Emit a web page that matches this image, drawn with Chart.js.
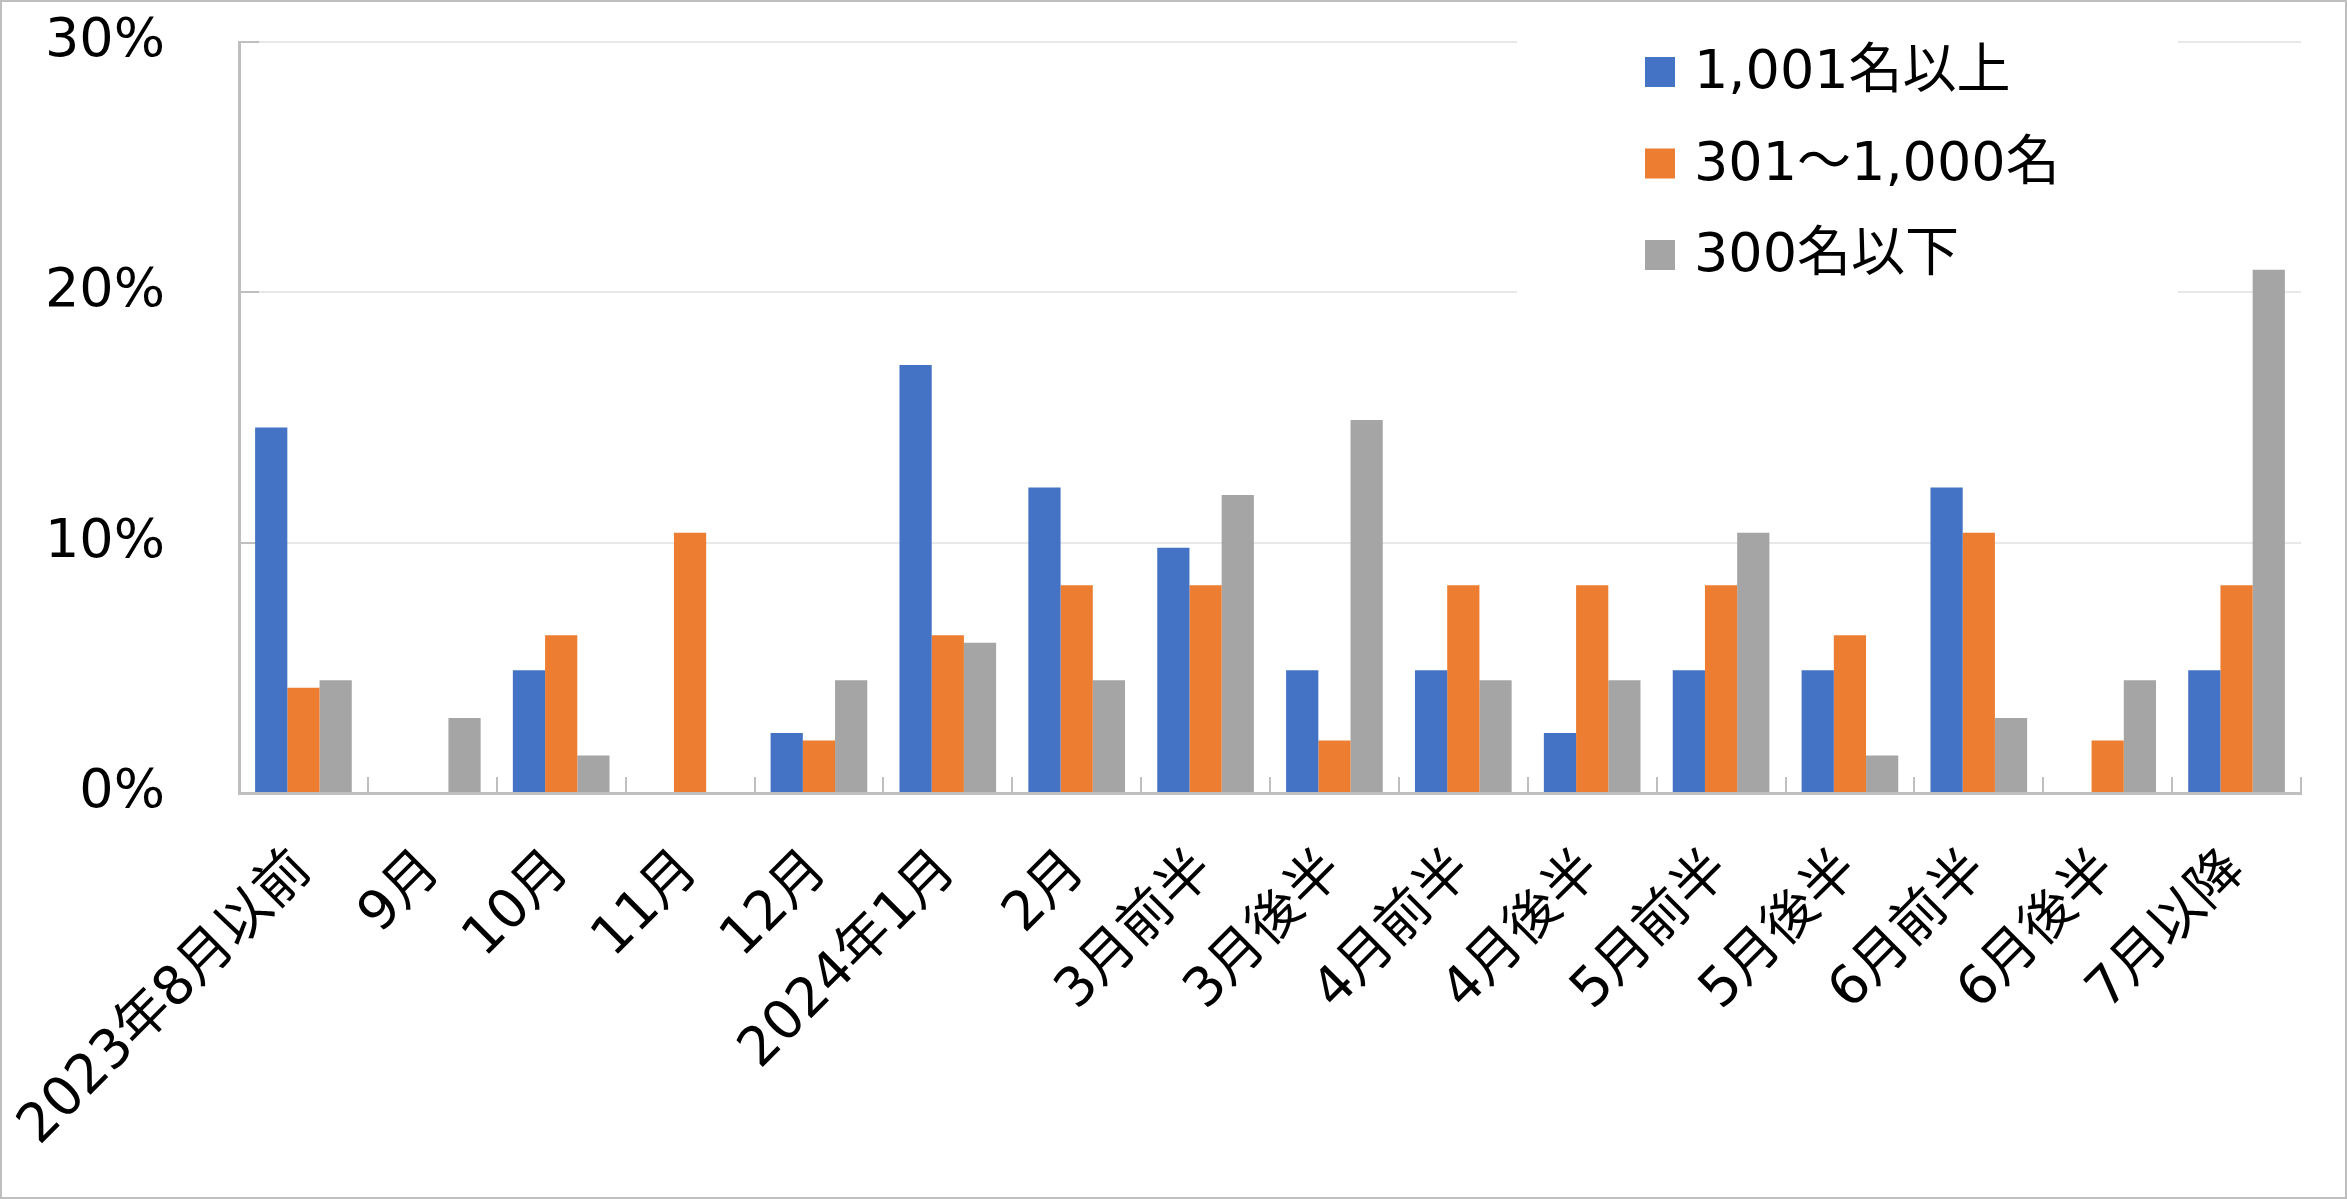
<!DOCTYPE html>
<html lang="ja">
<head>
<meta charset="utf-8">
<title>入社時期</title>
<script src="https://cdn.jsdelivr.net/npm/chart.js@4.4.1/dist/chart.umd.min.js"></script>
<style>
  html, body { margin: 0; padding: 0; background: #fff; }
  #frame { width: 2347px; height: 1199px; box-sizing: border-box; border: 2px solid #bfbfbf; position: relative; }
  #chart { display: block; }
</style>
</head>
<body>
<div id="frame"><canvas id="chart"></canvas></div>
<script>
// categories and values (%)
const categories = ['2023年8月以前', '9月', '10月', '11月', '12月', '2024年1月', '2月', '3月前半', '3月後半',
    '4月前半', '4月後半', '5月前半', '5月後半', '6月前半', '6月後半', '7月以降'];
const seriesNames = ['1,001名以上', '301～1,000名', '300名以下'];
const over1000 = [14.6, 0, 4.9, 0, 2.4, 17.1, 12.2, 9.8, 4.9, 4.9, 2.4, 4.9, 4.9, 12.2, 0, 4.9];
const from301 = [4.2, 0, 6.3, 10.4, 2.1, 6.3, 8.3, 8.3, 2.1, 8.3, 8.3, 8.3, 6.3, 10.4, 2.1, 8.3];
const under300 = [4.5, 3.0, 1.5, 0, 4.5, 6.0, 4.5, 11.9, 14.9, 4.5, 4.5, 10.4, 1.5, 3.0, 4.5, 20.9];
const yTicks = [0, 10, 20, 30];

const colors = ['#4472C4', '#ED7D31', '#A5A5A5'];
const fontFamily = '"DejaVu Sans", "Noto Sans CJK JP", sans-serif';
const fontSize = 54;

// legend drawn inside the plot, on a white box like Excel does
const insideLegend = {
    id: 'insideLegend',
    afterDraw(chart) {
        const ctx = chart.ctx;
        ctx.save();
        ctx.fillStyle = '#fff';
        ctx.fillRect(1515, 30, 661, 270);
        ctx.font = fontSize + 'px ' + fontFamily;
        ctx.textBaseline = 'middle';
        ctx.textAlign = 'left';
        chart.data.datasets.forEach((ds, i) => {
            const y = 70 + i * 91.5;
            ctx.fillStyle = ds.backgroundColor;
            ctx.fillRect(1643, y - 15, 30, 30);
            ctx.fillStyle = '#000';
            ctx.fillText(ds.label, 1692, y + 2);
        });
        ctx.restore();
    }
};

const seriesData = [over1000, from301, under300];

new Chart(document.getElementById('chart'), {
    type: 'bar',
    data: {
        labels: categories,
        datasets: seriesNames.map((name, i) => ({
            label: name,
            data: seriesData[i],
            backgroundColor: colors[i],
            borderWidth: 0,
            categoryPercentage: 0.75,
            barPercentage: 1.0
        }))
    },
    options: {
        responsive: true,
        maintainAspectRatio: false,
        animation: false,
        layout: { padding: { top: 40, right: 44, left: 0, bottom: 0 } },
        scales: {
            x: {
                offset: true,
                grid: {
                    display: true,
                    offset: true,
                    drawOnChartArea: false,
                    drawTicks: true,
                    tickLength: -16,
                    tickColor: '#bfbfbf',
                    lineWidth: 2
                },
                border: { display: true, color: '#bfbfbf', width: 3 },
                ticks: {
                    autoSkip: false,
                    minRotation: 45,
                    maxRotation: 45,
                    padding: 62,
                    color: '#000',
                    font: { family: fontFamily, size: fontSize }
                },
                afterFit(scale) {
                    scale.height = 404;
                    scale.paddingLeft = 0;
                    scale.paddingRight = 0;
                }
            },
            y: {
                min: yTicks[0],
                max: yTicks[yTicks.length - 1],
                afterBuildTicks(scale) {
                    scale.ticks = yTicks.map(v => ({ value: v }));
                },
                ticks: {
                    padding: 94,
                    color: '#000',
                    font: { family: fontFamily, size: fontSize },
                    callback: v => v + '%'
                },
                grid: {
                    color: '#e8e8e8',
                    lineWidth: 2,
                    drawTicks: true,
                    tickLength: -20,
                    tickColor: '#bfbfbf'
                },
                border: { display: true, color: '#bfbfbf', width: 3 },
                afterFit(scale) {
                    scale.width = 237;
                    scale.paddingTop = 0;
                    scale.paddingBottom = 0;
                }
            }
        },
        plugins: {
            legend: { display: false },
            tooltip: { enabled: false }
        }
    },
    plugins: [insideLegend]
});
</script>
</body>
</html>
